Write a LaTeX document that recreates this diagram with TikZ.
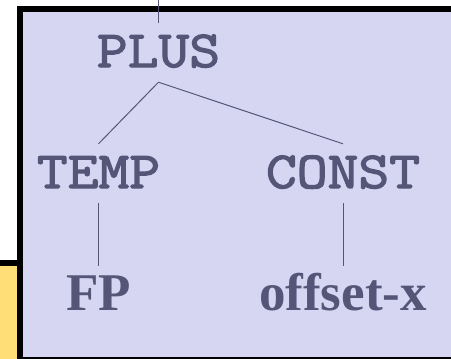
\documentclass[tikz,border=0pt]{standalone}
\usepackage{fontspec}
\usetikzlibrary{positioning}
\newfontfamily\treemono[FakeStretch=1.15,FakeBold=2.5]{Latin Modern Mono}
\newfontfamily\treeserif{Liberation Serif}
\definecolor{panelbg}{RGB}{214,214,243}
\definecolor{treeink}{RGB}{85,85,120}
\definecolor{notepad}{RGB}{255,221,119}

\begin{document}
\begin{tikzpicture}[x=1pt,y=-1pt,
      opnode/.style={
         inner sep=0pt,
         text height=44pt,
         text depth=15pt,
         text=treeink,
         font=\treemono\fontsize{52}{60}\selectfont},
      leafnode/.style={
         inner sep=0pt,
         text height=44pt,
         text depth=15pt,
         text=treeink,
         font=\treeserif\bfseries\fontsize{53}{60}\selectfont},
      treeline/.style={draw=treeink, line width=1pt},
      node distance=63pt and 0pt
      ]
      \useasboundingbox (0,0) rectangle (451,359);
      \clip (0,0) rectangle (451,359);

      % yellow box behind, only its corner shows
      \draw[fill=notepad, line width=6pt] (-30,263) rectangle (20,400);
      % panel holding the tree
      \draw[fill=panelbg, line width=6pt] (20,9) rectangle (480,360);

      \node[opnode, anchor=base] (plus) at (158.5,67) {PLUS};
      \node[opnode, anchor=base] (temp) at (98.5,188) {TEMP};
      \node[opnode, anchor=base] (const) at (343,188) {CONST};
      \node[leafnode, below=of temp] (fp) {FP};
      \node[leafnode, below=of const] (offsetx) {offset-x};
      \coordinate (feed) at (158.5,0);

      \draw[treeline] (feed) -- (plus);
      \foreach \i/\j in {plus/temp, plus/const, temp/fp, const/offsetx}
         \draw[treeline] (\i.south) -- (\j.north);

\end{tikzpicture}
\end{document}
